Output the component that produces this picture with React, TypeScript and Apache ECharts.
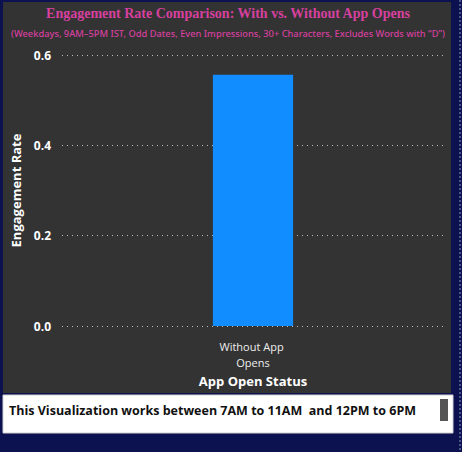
import React, { useEffect, useRef } from "react";
import * as echarts from "echarts";

const categories = ["Without App Opens"];
const engagementRates = [0.556];
const yTicks = { min: 0, max: 0.6, interval: 0.2 };
const titleText = "Engagement Rate Comparison: With vs. Without App Opens";
const subtitleText =
  "(Weekdays, 9AM\u20135PM IST, Odd Dates, Even Impressions, 30+ Characters, Excludes Words with \u201CD\u201D)";
const footerText = "This Visualization works between 7AM to 11AM  and 12PM to 6PM";
const xAxisName = "App Open Status";
const yAxisName = "Engagement Rate";

export default function App() {
  const ref = useRef<HTMLDivElement>(null);
  useEffect(() => {
    if (!ref.current) return;
    const chart = echarts.init(ref.current, null, { renderer: "svg" });
    chart.setOption({
      animation: false,
      backgroundColor: "#0c1250",
      graphic: [
        {
          type: "rect",
          z: -10,
          shape: { x: 3, y: 2, width: 448, height: 391 },
          style: { fill: "#333333" },
        },
        {
          type: "rect",
          z: -10,
          shape: { x: 3, y: 395, width: 450, height: 38 },
          style: { fill: "#ffffff", stroke: "#d0d0d0", lineWidth: 1 },
        },
        {
          type: "text",
          x: 9,
          y: 410,
          style: {
            text: footerText,
            fill: "#111111",
            font: "bold 12.5px 'Open Sans', sans-serif",
            verticalAlign: "middle",
          },
        },
        {
          type: "rect",
          shape: { x: 440, y: 399, width: 8, height: 22 },
          style: { fill: "#555555" },
        },
        {
          type: "line",
          shape: { x1: 460, y1: 0, x2: 460, y2: 452 },
          style: { stroke: "#4b5388", lineWidth: 2, lineDash: [2, 2] },
        },
        {
          type: "text",
          x: 228,
          y: 13,
          style: {
            text: titleText,
            fill: "#d6409f",
            font: "bold 14px 'Liberation Serif', serif",
            align: "center",
            verticalAlign: "middle",
          },
        },
        {
          type: "text",
          x: 228,
          y: 33,
          style: {
            text: subtitleText,
            fill: "#d6409f",
            font: "500 9.3px 'Noto Sans', sans-serif",
            align: "center",
            verticalAlign: "middle",
          },
        },
      ],
      grid: { left: 62, right: 18, top: 55, bottom: 126 },
      xAxis: {
        type: "category",
        data: categories,
        name: xAxisName,
        nameLocation: "middle",
        nameGap: 48,
        nameTextStyle: {
          color: "#ffffff",
          fontWeight: "bold",
          fontSize: 13,
          fontFamily: "'Open Sans', sans-serif",
        },
        axisLine: { show: false },
        axisTick: { show: false },
        axisLabel: {
          color: "#eeeeee",
          fontSize: 11,
          fontFamily: "'Open Sans', sans-serif",
          width: 80,
          overflow: "break",
          lineHeight: 16,
          margin: 12,
        },
      },
      yAxis: {
        type: "value",
        min: yTicks.min,
        max: yTicks.max,
        interval: yTicks.interval,
        name: yAxisName,
        nameLocation: "middle",
        nameGap: 40,
        nameTextStyle: {
          color: "#ffffff",
          fontWeight: "bold",
          fontSize: 13,
          fontFamily: "'Open Sans', sans-serif",
        },
        axisLabel: {
          color: "#ffffff",
          fontWeight: "bold",
          fontSize: 12,
          fontFamily: "'Open Sans', sans-serif",
          formatter: (v: number) => v.toFixed(1),
          margin: 11,
        },
        axisLine: { show: false },
        axisTick: { show: false },
        splitLine: {
          lineStyle: { color: "#bbbbbb", type: [1, 4], width: 1 },
        },
      },
      series: [
        {
          type: "bar",
          data: engagementRates,
          barWidth: "21%",
          itemStyle: { color: "#118dff" },
        },
      ],
    });
    return () => chart.dispose();
  }, []);
  return (
    <div
      ref={ref}
      style={{ position: "fixed", left: 0, top: 0, width: 462, height: 452 }}
    />
  );
}
